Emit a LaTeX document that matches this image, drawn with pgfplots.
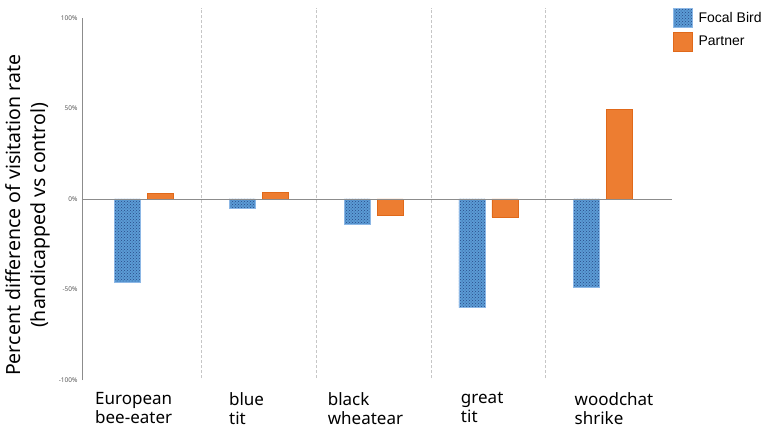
\documentclass[border=0pt]{standalone}
\usepackage{fontspec}
\setmainfont{Noto Sans}
\newfontfamily\legendfont{Liberation Sans}
\usepackage{pgfplots}
\pgfplotsset{compat=1.18}
\usetikzlibrary{patterns}

\definecolor{focal}{HTML}{5B9BD5}
\definecolor{focaldots}{HTML}{284A86}
\definecolor{focaledge}{HTML}{8DB8E6}
\definecolor{partner}{HTML}{ED7D31}
\definecolor{partneredge}{HTML}{E0691A}
\definecolor{ticktext}{HTML}{595959}

\begin{document}
\begin{tikzpicture}
\begin{axis}[
    at={(0pt,0pt)}, anchor=south west,
    scale only axis,
    width=590pt, height=362pt,
    xmin=-0.54, xmax=4.6,
    ymin=-100, ymax=100,
    clip=false,
    ybar, bar width=26pt,
    axis x line=none,
    axis y line*=left,
    y axis line style={draw=gray!90, line width=0.8pt},
    xtick=\empty,
    ytick={-100,-50,0,50,100},
    major tick length=0pt,
    yticklabel={\pgfmathprintnumber{\tick}\%},
    /pgf/number format/assume math mode=true,
    yticklabel style={font=\fontsize{6.5}{8}\selectfont, text=ticktext, xshift=-1pt},
    ylabel={Percent difference of visitation rate\\(handicapped vs control)},
    ylabel style={font=\fontsize{19.5}{25}\selectfont, align=center, at={(axis description cs:-0.092,0.455)}, anchor=center, rotate=0},
    legend style={at={(axis description cs:1.0017,1.0276)}, anchor=north west, draw=none, fill=none,
        font=\legendfont\fontsize{14}{16}\selectfont, inner sep=0pt, row sep=4pt},
    legend cell align=left,
    legend image code/.code={\draw[#1] (0pt,-9.5pt) rectangle (19pt,9.5pt);},
]

% separators between species
\pgfplotsinvokeforeach{0.5,1.5,2.5,3.5}{
    \draw[gray!45, dash pattern=on 3pt off 2pt, line width=0.6pt]
        (axis cs:#1,-99) -- (axis cs:#1,105.5);
}

\addplot[fill=focal, draw=focaledge, line width=0.5pt, bar shift=-16.5pt,
    postaction={pattern=crosshatch dots, pattern color=focaldots}] coordinates {
    (0, -46)
    (1, -5)
    (2, -14)
    (3, -60)
    (4, -49)
};
\addlegendentry{\ Focal Bird}

\addplot[fill=partner, draw=partneredge, line width=0.5pt, bar shift=16.5pt] coordinates {
    (0, 3)
    (1, 3.5)
    (2, -9)
    (3, -10)
    (4, 49.5)
};
\addlegendentry{\ Partner}

\draw[gray!90, line width=0.8pt] (axis cs:-0.54,0) -- (axis cs:4.6,0);

% species names
\node[anchor=north west, inner sep=0pt, align=left, font=\fontsize{17}{19}\selectfont, yshift=-12pt]
    at (axis cs:-0.427,-100) {European\\bee-eater};
\node[anchor=north west, inner sep=0pt, align=left, font=\fontsize{17}{19}\selectfont, yshift=-12pt]
    at (axis cs:0.74,-100) {blue\\tit};
\node[anchor=north west, inner sep=0pt, align=left, font=\fontsize{17}{19}\selectfont, yshift=-12pt]
    at (axis cs:1.6,-100) {black\\wheatear};
\node[anchor=north west, inner sep=0pt, align=left, font=\fontsize{17}{19}\selectfont, yshift=-12pt]
    at (axis cs:2.76,-100) {great\\tit};
\node[anchor=north west, inner sep=0pt, align=left, font=\fontsize{17}{19}\selectfont, yshift=-12pt]
    at (axis cs:3.75,-100) {woodchat\\shrike};
\end{axis}
\pgfresetboundingbox
\path[use as bounding box] (-82pt,-51pt) rectangle (683pt,380pt);
\end{tikzpicture}
\end{document}
